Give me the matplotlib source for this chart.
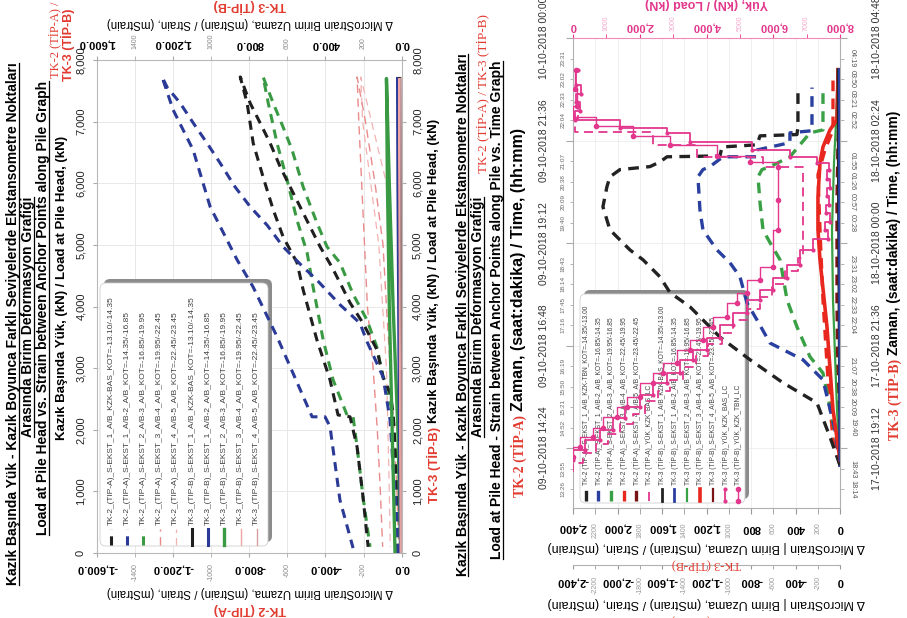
import matplotlib
matplotlib.use("Agg")
import matplotlib.pyplot as plt
from matplotlib.patches import FancyBboxPatch
from matplotlib.lines import Line2D
from matplotlib.ticker import MultipleLocator, FuncFormatter

plt.rcParams["font.family"] = ["Liberation Sans", "DejaVu Sans"]
plt.rcParams["ytick.alignment"] = "center"

# ---------------- left chart: load at pile head (kN) vs strain (mStrain) ----------------
# TK-2 (TIP-A), loading branch followed by unloading branch
tk2_bas_load = [0, 1180, 2270, 2600, 2860, 3300, 3730, 4060, 4320, 4640, 4970, 5290, 5680, 5940, 6270, 6650, 6980, 7300, 7725,
                7300, 6650, 6100, 5570, 5130, 4710, 4270, 3460, 2810, 2240, 2210, 1720, 910, 100]
tk2_bas_strain = [-20, -25, -45, -61, -98, -130, -203, -271, -313, -366, -428, -480, -543, -585, -638, -690, -743, -795, -847,
                  -811, -779, -727, -674, -622, -549, -517, -445, -376, -334, -271, -234, -203, -176]
tk2_e12_load = [0, 650, 1400, 2160, 2860, 3430, 3730, 4030, 4430, 4640, 4970, 5320, 5620, 5940, 6330, 6650, 6980, 7300, 7560, 7725,
                7190, 6540, 5620, 4760, 4320, 3510, 2210, 2210, 2050, 860, 80]
tk2_e12_strain = [-20, -26, -45, -61, -98, -182, -219, -324, -445, -517, -622, -706, -795, -874, -953, -1021, -1094, -1162, -1231, -1257,
                  -1199, -1094, -1005, -864, -780, -654, -470, -402, -376, -324, -255]
tk2_e23_load = [0, 1180, 2270, 2860, 3340, 3780, 4200, 4710, 4970, 5360, 5940, 6540, 6910, 7300, 7725,
                7300, 6650, 6050, 5400, 4870, 4320, 3460, 2810, 2240, 2210, 1720, 910, 100]
tk2_e23_strain = [-20, -25, -45, -98, -130, -182, -255, -324, -392, -445, -517, -575, -622, -674, -727,
                  -700, -654, -601, -549, -496, -465, -412, -360, -287, -255, -234, -203, -166]
tk2_e34_load = [0, 1000, 2000, 3000, 4000, 5000, 6000, 7000, 7725, 7000, 6000, 5000, 4000, 3000, 2000, 1000, 100]
tk2_e34_strain = [-15, -25, -40, -60, -80, -98, -140, -190, -234, -225, -210, -195, -180, -150, -128, -112, -100]
tk2_e45_load = [0, 2000, 4000, 6000, 7725, 7000, 5000, 3000, 1000, 100]
tk2_e45_strain = [-5, -20, -45, -80, -215, -205, -120, -80, -65, -60]
# TK-3 (TIP-B), read against the top (positive) strain axis
tk3_bas_load = [0, 2000, 4000, 6000, 7700]
tk3_bas_strain = [2, 5, 6, 8, 10]
tk3_e12_load = [0, 2000, 4000, 6000, 7700]
tk3_e12_strain = [6, 12, 16, 20, 22]
tk3_e23_load = [0, 2000, 4000, 6000, 7700, 6000, 4000, 2000, 0]
tk3_e23_strain = [5, 20, 45, 65, 80, 75, 65, 50, 35]
tk3_e34_load = [0, 4000, 7700, 4000, 0]
tk3_e34_strain = [3, 10, 14, 12, 8]
tk3_e45_load = [0, 7700]
tk3_e45_strain = [2, 5]

left_labels = [
    "TK-2_(TIP-A)_S-EKST_1_A/B_KZK-BAS_KOT=-13.10/-14.35",
    "TK-2_(TIP-A)_S-EKST_1_A/B-2_A/B_KOT=-14.35/-16.85",
    "TK-2_(TIP-A)_S-EKST_2_A/B-3_A/B_KOT=-16.85/-19.95",
    "TK-2_(TIP-A)_S-EKST_3_A/B-4_A/B_KOT=-19.95/-22.45",
    "TK-2_(TIP-A)_S-EKST_4_A/B-5_A/B_KOT=-22.45/-23.45",
    "TK-3_(TIP-B)_S-EKST_1_A/B_KZK-BAS_KOT=-13.10/-14.35",
    "TK-3_(TIP-B)_S-EKST_1_A/B-2_A/B_KOT=-14.35/-16.85",
    "TK-3_(TIP-B)_S-EKST_2_A/B-3_A/B_KOT=-16.85/-19.95",
    "TK-3_(TIP-B)_S-EKST_3_A/B-4_A/B_KOT=-19.95/-22.45",
    "TK-3_(TIP-B)_S-EKST_4_A/B-5_A/B_KOT=-22.45/-23.45",
]

# ---------------- right chart: strain and load vs time ----------------
# TK-2 times: hours from 09-10-2018 00:00 ; TK-3 times: hours from 17-10-2018 00:00
tk2_tbn_t = [14.0, 14.66, 15.46, 15.93, 16.47, 17.0, 17.71, 18.04, 18.41, 18.81, 19.04, 19.51, 20.05, 20.52, 20.75,
             20.92, 20.99, 21.1, 21.22, 21.24, 21.45, 21.5, 21.71, 21.74, 21.92, 22.86]
tk2_tbn_s = [0, -90, -207, -512, -809, -1079, -1349, -1528, -1618, -1771, -1888, -2068, -2131, -2095, -2068,
             -1978, -1708, -1618, -1555, -1079, -1061, -746, -719, -387, -378, -378]
tk2_r12_t = [13.96, 14.83, 16.0, 16.47, 16.86, 17.4, 17.8, 18.41, 18.74, 19.04, 19.51, 19.98, 20.75, 20.92, 20.99,
             21.22, 21.22, 21.38, 21.55, 21.78, 21.83, 22.84]
tk2_r12_s = [0, -45, -153, -333, -629, -746, -836, -899, -989, -1106, -1232, -1259, -1277, -1232, -1169,
             -1052, -746, -746, -450, -450, -252, -252]
tk2_r23_t = [14.0, 14.43, 16.16, 16.54, 17.24, 17.87, 18.81, 19.21, 19.51, 20.14, 20.75, 20.92, 20.99, 21.22, 21.5,
             21.78, 21.85, 22.86]
tk2_r23_s = [0, -18, -153, -270, -387, -476, -539, -629, -692, -719, -737, -701, -629, -450, -360, -270, -153, -153]
tk2_r34_t = [14.0, 14.59, 16.0, 17.87, 19.51, 20.8, 21.38, 21.85, 23.02]
tk2_r34_s = [0, -63, -108, -153, -180, -198, -135, -63, -63]
tk2_r45_t = [14.0, 15.53, 17.87, 20.2, 21.55, 22.3, 23.2]
tk2_r45_s = [0, -18, -27, -27, -18, -9, -9]
tk2_load_t = [13.85, 14.05, 14.28, 14.5, 14.73, 14.97, 15.2, 15.5, 15.75, 16.0, 16.3, 16.55, 16.85, 17.1, 17.4,
              17.65, 17.95, 18.25, 18.55, 18.85, 20.99, 21.22, 21.5, 21.8, 22.1, 22.56]
tk2_load = [0, 300, 700, 1050, 1400, 1800, 2150, 2550, 2900, 3300, 3700, 4050, 4450, 4800, 5200,
            5600, 5950, 6350, 6750, 6890, 5690, 3715, 2400, 60, 150, 80]

tk3_bas_t = [18.92, 22.0, 25.0, 28.06]
tk3_bas_s = [0, 8, 14, 18]
tk3_r12_t = [18.92, 22.0, 25.0, 28.06]
tk3_r12_s = [0, 3, 5, 6]
tk3_r23_t = [18.92, 20.1, 22.67, 24.31, 25.88, 26.82, 28.06]
tk3_r23_s = [0, 27, 63, 72, 54, 36, 18]
tk3_r34_t = [18.92, 20.1, 22.04, 23.61, 24.31, 25.08, 25.88, 26.25, 26.65, 26.89, 28.06]
tk3_r34_s = [0, 63, 117, 180, 198, 198, 180, 153, 90, 27, 18]
tk3_r45_t = [18.92, 28.06]
tk3_r45_s = [0, 4]
tk3_load_bas_t = [18.92, 19.16, 19.39, 19.63, 19.91, 20.17, 20.45, 20.73, 20.96, 21.27, 21.5, 21.78, 22.09, 22.37,
                  22.67, 22.91, 23.19, 23.49, 23.84, 24.1, 24.3, 24.5, 24.7, 24.9, 25.1, 25.3, 25.5, 25.7,
                  25.88, 26.02, 26.18, 26.37, 26.58, 26.7, 26.89, 27.1, 27.3, 27.5, 27.7, 28.06]
tk3_load_bas = [0, 360, 810, 1200, 1560, 2010, 2400, 2820, 3210, 3600, 4010, 4400, 4790, 5210,
                5600, 5990, 6410, 6800, 7190, 7640, 7560, 7700, 7580, 7680, 7600, 7700, 7620, 7660,
                7300, 6500, 5360, 3500, 2810, 1400, 60, 200, 80, 250, 100, 150]
tk3_load_tbn_t = [18.99, 19.23, 19.46, 19.67, 19.93, 20.17, 20.4, 20.73, 20.96, 21.2, 21.5, 21.73, 22.04, 22.27,
                  22.6, 22.84, 23.14, 23.44, 24.31, 25.0, 25.79, 25.9, 26.05, 26.3, 26.5, 26.75, 26.95, 27.2, 27.6, 28.06]
tk3_load_tbn = [0, 210, 600, 900, 1320, 1620, 2010, 2400, 2700, 3120, 3500, 3900, 4190, 4610,
                4910, 5210, 5600, 5990, 6140, 6140, 6140, 5300, 4300, 2900, 1800, 700, 0, 120, 60, 90]

right_labels = [
    "TK-2 (TİP-A)_S-EKST_1_A/B_KZK-TBN_KOT=-14.35/-13.00",
    "TK-2 (TİP-A)_S-EKST_1_A/B-2_A/B_KOT=-16.85/-14.35",
    "TK-2 (TİP-A)_S-EKST_2_A/B-3_A/B_KOT=-19.95/-16.85",
    "TK-2 (TİP-A)_S-EKST_3_A/B-4_A/B_KOT=-22.45/-19.95",
    "TK-2 (TİP-A)_S-EKST_4_A/B-5_A/B_KOT=-23.45/-22.45",
    "TK-2 (TİP-A)_YÜK_KZK_BAS_LC",
    "TK-3 (TİP-B)_S-EKST_1_A/B_KZK-BAS_KOT=-14.35/-13.00",
    "TK-3 (TİP-B)_S-EKST_1_A/B-2_A/B_KOT=-16.85/-14.35",
    "TK-3 (TİP-B)_S-EKST_2_A/B-3_A/B_KOT=-19.95/-16.85",
    "TK-3 (TİP-B)_S-EKST_3_A/B-4_A/B_KOT=-22.45/-19.95",
    "TK-3 (TİP-B)_S-EKST_4_A/B-5_A/B_KOT=-23.45/-22.45",
    "TK-3 (TİP-B)_YÜK_KZK_BAS_LC",
    "TK-3 (TİP-B)_YÜK_KZK_TBN_LC",
]

W, H = 907, 618
fig = plt.figure(figsize=(W / 100, H / 100), dpi=100)
TR = fig.dpi_scale_trans
RED = "#e23b30"
PINK = "#e2378c"
SERIF = ["Liberation Serif", "DejaVu Serif"]


def box(x0, y0, x1, y1):
    return [x0 / W, 1 - y1 / H, (x1 - x0) / W, (y1 - y0) / H]


def put(x, y, s, rot=90, **kw):
    kw.setdefault("ha", "center")
    kw.setdefault("va", "center")
    return fig.text(x / 100, (H - y) / 100, s, transform=TR, rotation=rot, **kw)


def two_part(x, y, red, black, fs_red, fs_black, red_family):
    # red prefix then black text, reading bottom to top
    r = put(x, y, red, va="bottom", color=RED, fontsize=fs_red, fontweight="bold", family=red_family)
    bb = r.get_window_extent(fig.canvas.get_renderer())
    put(x, H - bb.y1 - 4, black, va="bottom", fontsize=fs_black, fontweight="bold")


def legend(ax, x0, y0, x1, y1, xs, dx, hy0, hy1, ty, labels, styles, fs):
    sh = FancyBboxPatch(((x0 + 4) / 100, (H - y1 + 4) / 100), (x1 - x0) / 100, (y1 - y0) / 100,
                        boxstyle="round,pad=0,rounding_size=0.06", transform=TR,
                        fc="#8c8c8c", ec="none", zorder=1.4)
    bx = FancyBboxPatch((x0 / 100, (H - y1) / 100), (x1 - x0) / 100, (y1 - y0) / 100,
                        boxstyle="round,pad=0,rounding_size=0.06", transform=TR,
                        fc="white", ec="#d0d0d0", lw=0.6, zorder=1.45)
    ax.add_artist(sh)
    ax.add_artist(bx)
    for i, (lab, st) in enumerate(zip(labels, styles)):
        x = (xs + i * dx) / 100
        ax.add_artist(Line2D([x, x], [(H - hy0) / 100, (H - hy1) / 100], transform=TR, zorder=1.5, **st))
        ax.text(x, (H - ty) / 100, lab, transform=TR, rotation=90, ha="center", va="bottom",
                fontsize=fs, color="#404040", zorder=1.5)


# ---------------- left chart ----------------
DASH = (0, (3, 2.2))
sl = [
    dict(color="#1f1f1f", linewidth=2.2, linestyle=DASH),
    dict(color="#2b3a97", linewidth=2.2, linestyle=DASH),
    dict(color="#3a9a44", linewidth=2.2, linestyle=DASH),
    dict(color="#ea8a8a", linewidth=1.0, linestyle=(0, (6, 4))),
    dict(color="#f2b3b3", linewidth=0.9, linestyle=(0, (6, 4))),
    dict(color="#1f1f1f", linewidth=2.2, linestyle="-"),
    dict(color="#2b3a97", linewidth=2.2, linestyle="-"),
    dict(color="#3a9a44", linewidth=2.4, linestyle="-"),
    dict(color="#f0a5a5", linewidth=1.0, linestyle="-"),
    dict(color="#d6a0a0", linewidth=1.0, linestyle="-"),
]

axL = fig.add_axes(box(96.7, 60, 401.7, 553))
axL.set_xlim(-1600, 0)
axL.set_ylim(0, 8000)
axL.set_axisbelow(True)
xt = [-1600, -1200, -800, -400, 0]
axL.set_xticks(xt, labels=[f"{v + 0:,.1f}" for v in xt], fontsize=8, fontweight="bold", rotation=180)
xm = [-1400, -1000, -600, -200]
axL.set_xticks(xm, labels=[str(v) for v in xm], minor=True, fontsize=5, color="#8a8a8a", rotation=90)
yt = list(range(0, 8001, 1000))
axL.set_yticks(yt, labels=[f"{v:,}" for v in yt], fontsize=8, rotation=90)
axL.tick_params(axis="y", right=True, labelright=True, length=3, pad=4.8, color="#aaaaaa", labelcolor="#222222")
axL.tick_params(axis="x", which="both", length=3, pad=4.3, color="#aaaaaa")
axL.grid(True, axis="x", which="both", color="#e8e8e8", linewidth=0.7)
axL.grid(True, axis="y", which="major", color="#e8e8e8", linewidth=0.7)
for sp in axL.spines.values():
    sp.set_color("#b8b8b8")
    sp.set_linewidth(0.8)

axT = axL.twiny()
axT.set_xlim(1600, 0)
xt3 = [1600, 1200, 800, 400, 0]
axT.set_xticks(xt3, labels=[f"{v:,.1f}" for v in xt3], fontsize=8, fontweight="bold", rotation=180)
xm3 = [1400, 1000, 600, 200]
axT.set_xticks(xm3, labels=[str(v) for v in xm3], minor=True, fontsize=5, color="#8a8a8a", rotation=90)
axT.tick_params(axis="x", which="both", length=3, pad=5, color="#aaaaaa")
for sp in axT.spines.values():
    sp.set_visible(False)

legend(axL, 100, 283, 268, 546, 111, 16.2, 545, 529, 525, left_labels, sl, 6.0)

axL.plot(tk2_e45_strain, tk2_e45_load, zorder=3, **sl[4])
axL.plot(tk2_e34_strain, tk2_e34_load, zorder=3, **sl[3])
axL.plot(tk2_e23_strain, tk2_e23_load, zorder=3, **sl[2])
axL.plot(tk2_bas_strain, tk2_bas_load, zorder=3, **sl[0])
axL.plot(tk2_e12_strain, tk2_e12_load, zorder=3, **sl[1])
axT.plot(tk3_e23_strain, tk3_e23_load, **sl[7])
axT.plot(tk3_e12_strain, tk3_e12_load, **sl[6])
axT.plot(tk3_bas_strain, tk3_bas_load, **sl[5])
axT.plot(tk3_e34_strain, tk3_e34_load, **sl[8])
axT.plot(tk3_e45_strain, tk3_e45_load, **sl[9])

# ---------------- right chart ----------------
RD = (0, (3.2, 2.2))
sr = [
    dict(color="#222222", linewidth=2.4, linestyle=RD),
    dict(color="#2a40a0", linewidth=2.4, linestyle=RD),
    dict(color="#3aa046", linewidth=2.4, linestyle=RD),
    dict(color="#e8281e", linewidth=2.4, linestyle=RD),
    dict(color="#7b1515", linewidth=2.4, linestyle=RD),
    dict(color=PINK, linewidth=1.3, linestyle=(0, (5, 3))),
    dict(color="#222222", linewidth=2.0, linestyle="-"),
    dict(color="#2a40a0", linewidth=2.0, linestyle="-"),
    dict(color="#3aa046", linewidth=1.6, linestyle="-"),
    dict(color="#e8281e", linewidth=2.6, linestyle="-"),
    dict(color="#7b1515", linewidth=1.6, linestyle="-"),
    dict(color=PINK, linewidth=1.3, linestyle="-", marker="o", markersize=2),
    dict(color=PINK, linewidth=1.0, linestyle="-", marker="o", markersize=3),
]


def hm(h):
    m = int(h * 60 + 1e-6)
    return f"{(m // 60) % 24:02d}:{m % 60:02d}"


def stamp(day):
    return FuncFormatter(lambda h, p: f"{day + int((h + 1e-6) // 24):02d}-10-2018 {hm(h)}")


rc = box(573, 38, 840, 508)
a2 = fig.add_axes(rc)
a2.spines["bottom"].set_position(("outward", 41))
a2.set_xlim(-2400, 0)
a2.set_ylim(13, 24)
a2.set_axisbelow(True)
x2 = list(range(-2400, 1, 400))
a2.set_xticks(x2, labels=[f"{v:,}" for v in x2], fontsize=8, fontweight="bold", rotation=180)
x2m = list(range(-2200, 0, 400))
a2.set_xticks(x2m, labels=[str(v) for v in x2m], minor=True, fontsize=5, color="#9a9a9a", rotation=90)
a2.tick_params(axis="x", which="both", length=3, pad=5, color="#999999")
a2.yaxis.set_major_locator(MultipleLocator(2.4))
a2.yaxis.set_minor_locator(MultipleLocator(0.48))
a2.yaxis.set_major_formatter(stamp(9))
a2.yaxis.set_minor_formatter(FuncFormatter(lambda h, p: hm(h)))
a2.tick_params(axis="y", which="major", labelrotation=90, labelsize=7.5, labelcolor="#333333",
               length=5, pad=12, color="#aaaaaa")
a2.tick_params(axis="y", which="minor", labelrotation=90, labelsize=4.6, labelcolor="#666666",
               length=2, pad=3.3, color="#aaaaaa")
a2.grid(True, axis="x", which="both", color="#ececec", linewidth=0.6)
a2.grid(True, axis="y", which="major", color="#ececec", linewidth=0.6)
for k in ("top", "right"):
    a2.spines[k].set_visible(False)
for k in ("left", "bottom"):
    a2.spines[k].set_color("#b0b0b0")

a3 = fig.add_axes(rc, facecolor="none")
a3.set_xlim(2400, 0)
a3.set_ylim(17.8, 28.8)
x3 = list(range(2400, -1, -400))
a3.set_xticks(x3, labels=[f"{v:,}" for v in x3], fontsize=8, fontweight="bold", rotation=180)
x3m = list(range(2200, 0, -400))
a3.set_xticks(x3m, labels=[str(v) for v in x3m], minor=True, fontsize=5, color="#9a9a9a", rotation=90)
a3.tick_params(axis="x", which="both", length=4, pad=6.5, color="#999999")
a3.yaxis.tick_right()
a3.yaxis.set_major_locator(MultipleLocator(2.4))
a3.yaxis.set_minor_locator(MultipleLocator(0.48))
a3.yaxis.set_major_formatter(stamp(17))
a3.yaxis.set_minor_formatter(FuncFormatter(lambda h, p: hm(h)))
a3.tick_params(axis="y", which="major", labelrotation=90, labelsize=7.5, labelcolor="#333333",
               length=5, pad=18, color="#aaaaaa")
a3.tick_params(axis="y", which="minor", labelrotation=270, labelsize=5.2, labelcolor="#555555",
               length=3, pad=3.6, color="#aaaaaa")
for k in ("top", "left"):
    a3.spines[k].set_visible(False)
for k in ("right", "bottom"):
    a3.spines[k].set_color("#b0b0b0")

aL = fig.add_axes(rc, facecolor="none")
aL.set_xlim(0, 8000)
aL.set_ylim(13, 24)
aL.xaxis.tick_top()
xl = list(range(0, 8001, 2000))
aL.set_xticks(xl, labels=[f"{v:,}" for v in xl], fontsize=8, fontweight="bold", color=PINK, rotation=180)
xlm = list(range(1000, 8000, 2000))
aL.set_xticks(xlm, labels=[str(v) for v in xlm], minor=True, fontsize=5, color="#f2a9cc", rotation=90)
aL.tick_params(axis="x", which="both", length=3, pad=2, color=PINK)
aL.yaxis.set_visible(False)
for k in ("bottom", "left", "right"):
    aL.spines[k].set_visible(False)
aL.spines["top"].set_color("#f08cbc")

aL3 = fig.add_axes(rc, facecolor="none")
aL3.set_xlim(0, 8000)
aL3.set_ylim(17.8, 28.8)
aL3.axis("off")

legend(a2, 580, 294, 745, 503, 585.5, 12.7, 501, 489, 485, right_labels, sr, 4.8)

a2.plot(tk2_r45_s, tk2_r45_t, **sr[4])
a2.plot(tk2_r34_s, tk2_r34_t, **sr[3])
a2.plot(tk2_r23_s, tk2_r23_t, **sr[2])
a2.plot(tk2_r12_s, tk2_r12_t, **sr[1])
a2.plot(tk2_tbn_s, tk2_tbn_t, **sr[0])
a3.plot(tk3_r23_s, tk3_r23_t, **sr[8])
a3.plot(tk3_r34_s, tk3_r34_t, **sr[9])
a3.plot(tk3_r45_s, tk3_r45_t, **sr[10])
a3.plot(tk3_bas_s, tk3_bas_t, **sr[6])
a3.plot(tk3_r12_s, tk3_r12_t, **sr[7])
aL.plot(tk2_load, tk2_load_t, drawstyle="steps-pre", **sr[5])
aL3.plot(tk3_load_bas, tk3_load_bas_t, drawstyle="steps-pre", **sr[11])
aL3.plot(tk3_load_tbn, tk3_load_tbn_t, drawstyle="steps-pre", **sr[12])

# ---------------- texts ----------------
TF = dict(fontsize=10, fontweight="bold")
titles = [
    put(13, 324, "Kazık Başında Yük - Kazık Boyunca Farklı Seviyelerde Ekstansometre Noktaları", **TF),
    put(28, 317, "Arasında Birim Deformasyon Grafiği", **TF),
    put(43, 308, "Load at Pile Head vs. Strain between Anchor Points along Pile Graph", **TF),
    put(463, 315, "Kazık Başında Yük - Kazık Boyunca Farklı Seviyelerde Ekstansometre Noktaları", **TF),
    put(478, 317, "Arasında Birim Deformasyon Grafiği", **TF),
    put(497, 310, "Load at Pile Head - Strain between Anchor Points along Pile vs. Time Graph", **TF),
]
put(55, 40, "TK-2 (TİP-A) /", color=RED, fontsize=9, family=SERIF)
put(68, 45, "TK-3 (TİP-B)", color=RED, fontsize=9, fontweight="bold")
put(483, 173, "TK-2 (TİP-A) / TK-3 (TİP-B)", va="bottom", color=RED, fontsize=9.5, family=SERIF)
put(62, 288, "Kazık Başında Yük, (kN) / Load at Pile Head, (kN)", fontsize=9.5, fontweight="bold")
two_part(434, 503, "TK-3 (TİP-B)", "Kazık Başında Yük, (kN) / Load at Pile Head, (kN)", 9.5, 9.5, ["Liberation Sans"])

strain_lbl = "Δ MicroStrain Birim Uzama, (mStrain) / Strain, (mStrain)"
put(250, 592, strain_lbl, rot=180, fontsize=8.3)
put(250, 610, "TK-2 (TİP-A)", rot=180, color=RED, fontsize=9, fontweight="bold")
put(250, 23, strain_lbl, rot=180, fontsize=8.3)
put(250, 6, "TK-3 (TİP-B)", rot=180, color=RED, fontsize=9, fontweight="bold")

strain_lbl2 = "Δ MicroStrain | Birim Uzama, (mStrain) / Strain, (mStrain)"
put(706, 547, strain_lbl2, rot=180, fontsize=9)
put(706, 565, "TK-3 (TİP-B)", rot=180, color=RED, fontsize=9, family=SERIF)
put(706, 603, strain_lbl2, rot=180, fontsize=9)
put(706, 621, "TK-2 (TİP-A)", rot=180, color=RED, fontsize=9, family=SERIF)
put(706, 3, "Yük, (kN) / Load (kN)", rot=180, color=PINK, fontsize=9, fontweight="bold")

two_part(519, 497, "TK-2 (TİP-A)", "Zaman, (saat:dakika) / Time, (hh:mm)", 10, 11.5, SERIF)
two_part(894, 440, "TK-3 (TİP-B)", "Zaman, (saat:dakika) / Time, (hh:mm)", 10, 10, SERIF)

# underline the title lines (baseline side is on the right when rotated 90)
rend = fig.canvas.get_renderer()
for t in titles:
    bb = t.get_window_extent(rend)
    xu = (bb.x1 - 1.5) / 100
    fig.add_artist(Line2D([xu, xu], [bb.y0 / 100, bb.y1 / 100], transform=TR, color="black", linewidth=0.9))

fig.savefig("out.png", dpi=100, facecolor="white")
